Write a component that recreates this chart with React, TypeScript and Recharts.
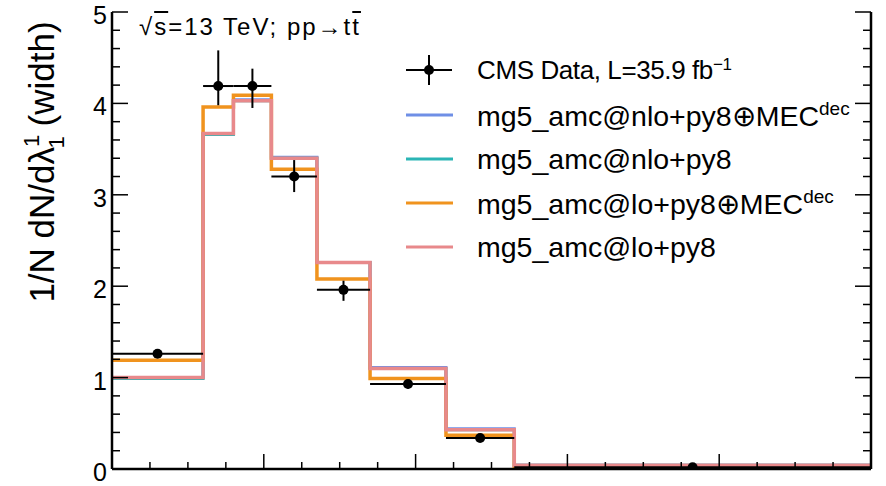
import React from 'react';
import { ComposedChart, Line, Scatter, ErrorBar, XAxis, YAxis, Label } from 'recharts';

const FONT = '"Liberation Sans", Arial, Helvetica, sans-serif';

// lambda_1^1 bin edges
const binEdges = [0, 0.12, 0.16, 0.21, 0.27, 0.34, 0.44, 0.53, 1.0];

// CMS data with asymmetric errors
const cmsData = [1.26, 4.19, 4.19, 3.2, 1.96, 0.93, 0.34, 0.02];
const cmsErrUp = [0.02, 0.39, 0.19, 0.18, 0.1, 0.04, 0.03, 0.01];
const cmsErrDown = [0.02, 0.21, 0.24, 0.17, 0.12, 0.05, 0.03, 0.01];

// MC predictions
const nloMec = [1.0, 3.67, 4.04, 3.41, 2.26, 1.11, 0.44, 0.04];
const nloPy8 = [0.99, 3.66, 4.03, 3.4, 2.26, 1.1, 0.43, 0.04];
const loMec = [1.19, 3.96, 4.09, 3.28, 2.08, 0.99, 0.37, 0.03];
const loPy8 = [1.0, 3.67, 4.03, 3.4, 2.26, 1.1, 0.43, 0.04];

const xTicks = [0, 0.05, 0.1, 0.15, 0.2, 0.25, 0.3, 0.35, 0.4, 0.45, 0.5, 0.55, 0.6, 0.65, 0.7, 0.75, 0.8, 0.85, 0.9, 0.95, 1.0];
const yTicks = [0, 0.2, 0.4, 0.6, 0.8, 1, 1.2, 1.4, 1.6, 1.8, 2, 2.2, 2.4, 2.6, 2.8, 3, 3.2, 3.4, 3.6, 3.8, 4, 4.2, 4.4, 4.6, 4.8, 5];

const seriesNames = ['mg5_amc@nlo+py8\u2295MEC', 'mg5_amc@nlo+py8', 'mg5_amc@lo+py8\u2295MEC', 'mg5_amc@lo+py8'];
const seriesSups = ['dec', '', 'dec', ''];
const seriesColors = ['#6f8fe6', '#2bb5b5', '#f0931e', '#e8898b'];
const seriesValues = [nloMec, nloPy8, loMec, loPy8];

// step histogram: one point per left edge, plus the last edge
const toSteps = (vals: number[]) => {
  const pts = vals.map((v, i) => ({ x: binEdges[i], y: v }));
  pts.push({ x: binEdges[binEdges.length - 1], y: vals[vals.length - 1] });
  return pts;
};

const dataPoints = cmsData.map((v, i) => {
  const half = (binEdges[i + 1] - binEdges[i]) / 2;
  return {
    x: binEdges[i] + half,
    y: v,
    ex: [half, half],
    ey: [cmsErrDown[i], cmsErrUp[i]],
  };
});

const isMajor = (v: number, step: number) => Math.abs(v / step - Math.round(v / step)) < 1e-6;

const LeftTick = (props: any) => {
  const { x, y, payload } = props;
  const major = isMajor(payload.value, 1);
  return (
    <g>
      <line x1={x} x2={x + (major ? 16 : 8)} y1={y} y2={y} stroke="#000" strokeWidth={1.5} />
      {major && (
        <text x={x - 5} y={y + 12} textAnchor="end" fontSize={25} fontFamily={FONT} fill="#000">
          {payload.value}
        </text>
      )}
    </g>
  );
};

const RightTick = (props: any) => {
  const { x, y, payload } = props;
  const major = isMajor(payload.value, 1);
  return <line x1={x} x2={x - (major ? 16 : 8)} y1={y} y2={y} stroke="#000" strokeWidth={1.5} />;
};

const BottomTick = (props: any) => {
  const { x, y, payload } = props;
  const major = isMajor(payload.value, 0.2);
  return <line x1={x} x2={x} y1={y} y2={y - (major ? 15 : 7)} stroke="#000" strokeWidth={1.5} />;
};

const TopTick = (props: any) => {
  const { x, y, payload } = props;
  const major = isMajor(payload.value, 0.2);
  return <line x1={x} x2={x} y1={y} y2={y + (major ? 15 : 7)} stroke="#000" strokeWidth={1.5} />;
};

const YTitle = () => (
  <text
    x={54}
    y={162}
    transform="rotate(-90, 54, 162)"
    textAnchor="middle"
    fontSize={35}
    fontFamily={FONT}
    fill="#000"
  >
    1/N dN/d{'\u03bb'}
    <tspan fontSize={22} dy={-15}>1</tspan>
    <tspan fontSize={22} dx={-12} dy={25}>1</tspan>
    <tspan dy={-10}> (width)</tspan>
  </text>
);

const DataMarker = (props: any) => {
  const { cx, cy } = props;
  return <circle cx={cx} cy={cy} r={5} fill="#000" />;
};

export default function App() {
  return (
    <div style={{ position: 'absolute', left: 0, top: 0, width: 886, height: 486, background: '#fff' }}>
      <ComposedChart width={886} height={486} margin={{ top: 12, right: 0, bottom: 0, left: 0 }}>
        <XAxis
          xAxisId="b"
          dataKey="x"
          type="number"
          domain={[0, 1]}
          allowDataOverflow
          ticks={xTicks}
          interval={0}
          height={17}
          tickSize={0}
          tickMargin={0}
          tick={<BottomTick />}
          axisLine={{ stroke: '#000', strokeWidth: 2.5 }}
        />
        <XAxis
          xAxisId="t"
          orientation="top"
          type="number"
          domain={[0, 1]}
          allowDataOverflow
          ticks={xTicks}
          interval={0}
          height={0}
          tickSize={0}
          tickMargin={0}
          tick={<TopTick />}
          axisLine={{ stroke: '#000', strokeWidth: 2 }}
        />
        <YAxis
          yAxisId="l"
          type="number"
          domain={[0, 5]}
          allowDataOverflow
          ticks={yTicks}
          interval={0}
          width={112}
          tickSize={0}
          tickMargin={0}
          tick={<LeftTick />}
          axisLine={{ stroke: '#000', strokeWidth: 2.5 }}
        >
          <Label content={<YTitle />} />
        </YAxis>
        <YAxis
          yAxisId="r"
          orientation="right"
          type="number"
          domain={[0, 5]}
          allowDataOverflow
          ticks={yTicks}
          interval={0}
          width={15}
          tickSize={0}
          tickMargin={0}
          tick={<RightTick />}
          axisLine={{ stroke: '#000', strokeWidth: 2.5 }}
        />
        {seriesValues.map((vals, i) => (
          <Line
            key={seriesNames[i]}
            xAxisId="b"
            yAxisId="l"
            data={toSteps(vals)}
            dataKey="y"
            type="stepAfter"
            stroke={seriesColors[i]}
            strokeWidth={i >= 2 ? 3.5 : 3}
            dot={false}
            isAnimationActive={false}
          />
        ))}
        <Scatter
          xAxisId="b"
          yAxisId="l"
          data={dataPoints}
          dataKey="y"
          fill="#000"
          shape={<DataMarker />}
          isAnimationActive={false}
        >
          <ErrorBar dataKey="ex" direction="x" width={0} stroke="#000" strokeWidth={2} />
          <ErrorBar dataKey="ey" direction="y" width={0} stroke="#000" strokeWidth={2} />
        </Scatter>
      </ComposedChart>

      {/* energy / process annotation */}
      <div
        style={{
          position: 'absolute',
          left: 139,
          top: 13,
          fontFamily: FONT,
          fontSize: 24,
          color: '#000',
          whiteSpace: 'nowrap',
          letterSpacing: 2,
        }}
      >
        {'\u221a'}
        <span style={{ textDecoration: 'overline' }}>s</span>
        {'=13 TeV; pp\u2192t'}
        <span style={{ textDecoration: 'overline' }}>t</span>
      </div>

      {/* legend */}
      <div
        style={{
          position: 'absolute',
          left: 404,
          top: 48,
          fontFamily: FONT,
          color: '#000',
          whiteSpace: 'nowrap',
        }}
      >
        <div style={{ display: 'flex', alignItems: 'center', height: 45, fontSize: 26, letterSpacing: -0.4 }}>
          <svg width={50} height={45}>
            <line x1={2} x2={48} y1={22} y2={22} stroke="#000" strokeWidth={2} />
            <line x1={25} x2={25} y1={7} y2={37} stroke="#000" strokeWidth={2} />
            <circle cx={25} cy={22} r={5} fill="#000" />
          </svg>
          <span style={{ marginLeft: 23 }}>
            CMS Data, L=35.9 fb<sup style={{ fontSize: 17, verticalAlign: 9 }}>{'\u22121'}</sup>
          </span>
        </div>
        {seriesNames.map((name, i) => (
          <div key={name} style={{ display: 'flex', alignItems: 'center', height: 44, fontSize: 28.5 }}>
            <svg width={50} height={44}>
              <line x1={2} x2={49} y1={22} y2={22} stroke={seriesColors[i]} strokeWidth={3} />
            </svg>
            <span style={{ marginLeft: 23 }}>
              {name}
              {seriesSups[i] && <sup style={{ fontSize: 19, verticalAlign: 11 }}>{seriesSups[i]}</sup>}
            </span>
          </div>
        ))}
      </div>
    </div>
  );
}
